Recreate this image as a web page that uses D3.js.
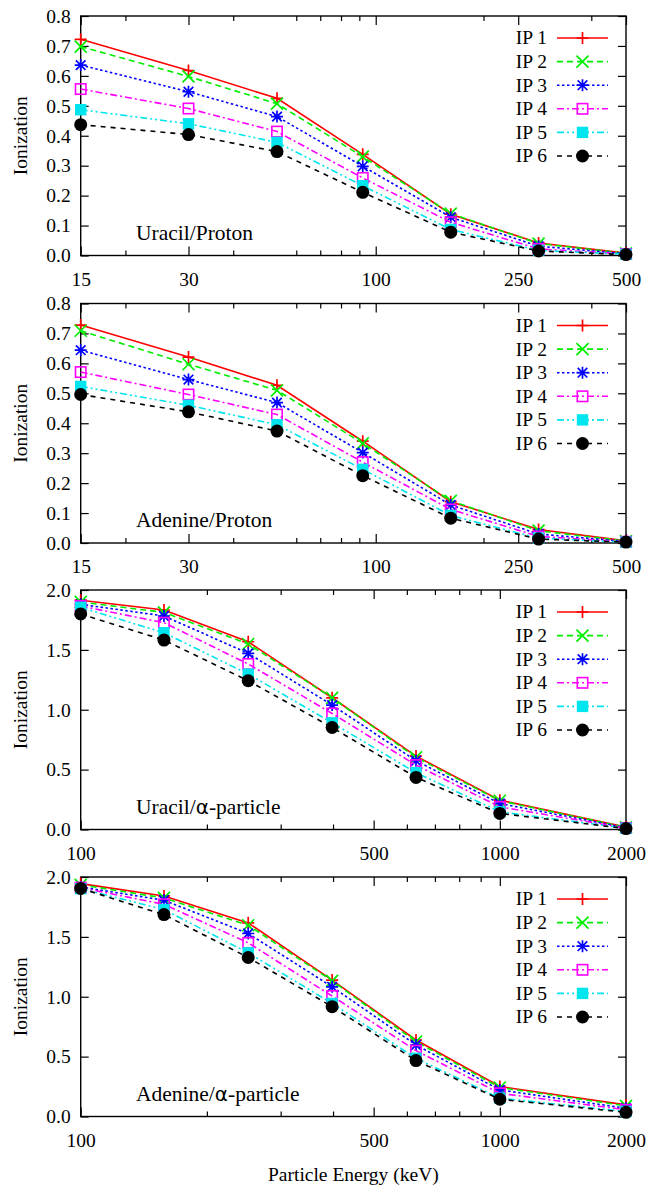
<!DOCTYPE html>
<html>
<head>
<meta charset="utf-8">
<script src="https://cdn.jsdelivr.net/npm/d3@7"></script>
<style>
body { margin: 0; background: #fff; }
svg text { font-family: "Liberation Serif", "Times New Roman", serif; fill: #000; }
.axis text { font-size: 19.5px; }
.axis line { stroke: #000; stroke-width: 1.2; }
.axis path { display: none; }
</style>
</head>
<body>
<div class="chart"></div>
<script>
// Data ---------------------------------------------------------------------
const seriesNames = ["IP 1", "IP 2", "IP 3", "IP 4", "IP 5", "IP 6"];

const protonEnergy = [15, 30, 53, 92, 162, 285, 500];
const alphaEnergy = [100, 158, 251, 398, 631, 1000, 2000];

const protonTicks = [15, 30, 100, 250, 500];
const protonMinorTicks = [20, 40, 60, 70, 80, 90, 200, 400];
const alphaTicks = [100, 500, 1000, 2000];
const alphaMinorTicks = [200, 300, 400, 600, 700, 800, 900];

const protonYTicks = [0, 0.1, 0.2, 0.3, 0.4, 0.5, 0.6, 0.7, 0.8];
const alphaYTicks = [0, 0.5, 1.0, 1.5, 2.0];

const uracilProton = [
  [0.722, 0.618, 0.525, 0.338, 0.138, 0.042, 0.008],
  [0.698, 0.598, 0.507, 0.330, 0.140, 0.040, 0.007],
  [0.636, 0.547, 0.464, 0.298, 0.128, 0.031, 0.006],
  [0.556, 0.491, 0.414, 0.259, 0.111, 0.022, 0.005],
  [0.487, 0.440, 0.378, 0.233, 0.087, 0.017, 0.004],
  [0.437, 0.404, 0.347, 0.211, 0.078, 0.015, 0.003]
];

const adenineProton = [
  [0.728, 0.621, 0.527, 0.340, 0.138, 0.045, 0.007],
  [0.709, 0.597, 0.510, 0.333, 0.141, 0.041, 0.006],
  [0.644, 0.546, 0.469, 0.302, 0.127, 0.030, 0.005],
  [0.571, 0.496, 0.429, 0.270, 0.112, 0.022, 0.004],
  [0.523, 0.460, 0.395, 0.246, 0.092, 0.016, 0.003],
  [0.496, 0.438, 0.374, 0.225, 0.083, 0.013, 0.003]
];

const uracilAlpha = [
  [1.915, 1.833, 1.568, 1.100, 0.613, 0.245, 0.020],
  [1.900, 1.813, 1.549, 1.100, 0.602, 0.240, 0.018],
  [1.880, 1.783, 1.471, 1.039, 0.574, 0.217, 0.015],
  [1.866, 1.727, 1.382, 0.969, 0.538, 0.189, 0.012],
  [1.855, 1.643, 1.298, 0.891, 0.474, 0.148, 0.010],
  [1.800, 1.582, 1.242, 0.852, 0.435, 0.134, 0.008]
];

const adenineAlpha = [
  [1.945, 1.842, 1.617, 1.139, 0.639, 0.250, 0.097],
  [1.935, 1.825, 1.597, 1.133, 0.625, 0.242, 0.089],
  [1.917, 1.806, 1.528, 1.083, 0.597, 0.222, 0.069],
  [1.911, 1.772, 1.450, 1.006, 0.550, 0.194, 0.056],
  [1.903, 1.728, 1.367, 0.944, 0.486, 0.153, 0.042],
  [1.905, 1.686, 1.328, 0.917, 0.467, 0.144, 0.035]
];

// Styles ---------------------------------------------------------------------
const colors = ["#ff0000", "#00ee00", "#0000ff", "#ff00ff", "#00e5ee", "#000000"];
const dashes = [null, "6,4", "2.5,2.5", "7,3,2,3", "7,3,2,3,2,3", "5,5"];
const markers = ["plus", "cross", "star", "square", "fsquare", "circle"];

// SVG Dimensions ---------------------------------------------------------------------
const width = 661;
const height = 1188;
const left = 80.7;
const right = 626;
const panelHeight = 239.5;

const svg = d3.select(".chart")
  .append("svg")
  .attr("width", width)
  .attr("height", height)
  .style("display", "block");

// Marker drawing ---------------------------------------------------------------------
function drawMarker(g, type, x, y, color) {
  const s = 6;
  if (type === "plus") {
    g.append("path").attr("d", `M${x - s},${y}H${x + s}M${x},${y - s}V${y + s}`)
      .attr("stroke", color).attr("stroke-width", 1.7).attr("fill", "none");
  } else if (type === "cross") {
    g.append("path").attr("d", `M${x - s},${y - s}L${x + s},${y + s}M${x - s},${y + s}L${x + s},${y - s}`)
      .attr("stroke", color).attr("stroke-width", 1.7).attr("fill", "none");
  } else if (type === "star") {
    g.append("path").attr("d", `M${x - s},${y}H${x + s}M${x},${y - s}V${y + s}` +
      `M${x - s * 0.8},${y - s * 0.8}L${x + s * 0.8},${y + s * 0.8}M${x - s * 0.8},${y + s * 0.8}L${x + s * 0.8},${y - s * 0.8}`)
      .attr("stroke", color).attr("stroke-width", 1.7).attr("fill", "none");
  } else if (type === "square") {
    g.append("rect").attr("x", x - 5.2).attr("y", y - 5.2).attr("width", 10.4).attr("height", 10.4)
      .attr("stroke", color).attr("stroke-width", 1.6).attr("fill", "none");
  } else if (type === "fsquare") {
    g.append("rect").attr("x", x - 5.7).attr("y", y - 5.7).attr("width", 11.4).attr("height", 11.4)
      .attr("fill", color);
  } else {
    g.append("circle").attr("cx", x).attr("cy", y).attr("r", 6.5).attr("fill", color);
  }
}

// Panel ---------------------------------------------------------------------
function drawPanel(top, energy, values, xTicks, xMinor, yTicks, yMax, title) {
  const bottom = top + panelHeight;
  const g = svg.append("g");

  const xScale = d3.scaleLog()
    .domain(d3.extent(energy))
    .range([left, right]);

  const yScale = d3.scaleLinear()
    .domain([0, yMax])
    .range([bottom, top]);

  // axes
  g.append("g").attr("class", "axis")
    .attr("transform", `translate(0,${bottom})`)
    .call(d3.axisBottom(xScale).tickValues(xTicks).tickSize(-9).tickPadding(16.5).tickFormat(d3.format("d")));
  g.append("g").attr("class", "axis")
    .attr("transform", `translate(0,${bottom})`)
    .call(d3.axisBottom(xScale).tickValues(xMinor).tickSize(-5).tickFormat(""));
  g.append("g").attr("class", "axis")
    .attr("transform", `translate(0,${top})`)
    .call(d3.axisTop(xScale).tickValues(xTicks).tickSize(-9).tickFormat(""));
  g.append("g").attr("class", "axis")
    .attr("transform", `translate(0,${top})`)
    .call(d3.axisTop(xScale).tickValues(xMinor).tickSize(-5).tickFormat(""));
  g.append("g").attr("class", "axis")
    .attr("transform", `translate(${left},0)`)
    .call(d3.axisLeft(yScale).tickValues(yTicks).tickSize(-8).tickPadding(10).tickFormat(d3.format(".1f")));
  g.append("g").attr("class", "axis")
    .attr("transform", `translate(${right},0)`)
    .call(d3.axisRight(yScale).tickValues(yTicks).tickSize(-8).tickFormat(""));

  g.append("rect")
    .attr("x", left).attr("y", top)
    .attr("width", right - left).attr("height", panelHeight)
    .attr("fill", "none").attr("stroke", "#000").attr("stroke-width", 1.4);

  g.append("text")
    .attr("transform", `translate(20,${(top + bottom) / 2}) rotate(-90)`)
    .attr("text-anchor", "middle")
    .attr("dy", "0.35em")
    .style("font-size", "19.5px")
    .text("Ionization");

  // annotation
  const label = g.append("text")
    .attr("x", 136)
    .attr("y", bottom - 16)
    .style("font-size", "21.5px");
  label.append("tspan").text(title[0]);
  if (title[1]) {
    label.append("tspan").style("font-family", "'DejaVu Sans', sans-serif").style("font-size", "20px").text(title[1]);
    label.append("tspan").text(title[2]);
  }

  // lines
  const line = d3.line()
    .x((d, i) => xScale(energy[i]))
    .y(d => yScale(d));

  values.forEach((series, k) => {
    g.append("path")
      .datum(series)
      .attr("d", line)
      .attr("fill", "none")
      .attr("stroke", colors[k])
      .attr("stroke-width", 1.6)
      .attr("stroke-dasharray", dashes[k]);
    series.forEach((v, i) => drawMarker(g, markers[k], xScale(energy[i]), yScale(v), colors[k]));
  });

  // legend
  seriesNames.forEach((name, k) => {
    const ly = top + 22 + k * 23.6;
    g.append("text")
      .attr("x", 547)
      .attr("y", ly)
      .attr("dy", "0.33em")
      .attr("text-anchor", "end")
      .style("font-size", "19.5px")
      .text(name);
    g.append("line")
      .attr("x1", 557).attr("x2", 608)
      .attr("y1", ly).attr("y2", ly)
      .attr("stroke", colors[k])
      .attr("stroke-width", 1.6)
      .attr("stroke-dasharray", dashes[k]);
    drawMarker(g, markers[k], 582.5, ly, colors[k]);
  });
}

drawPanel(16, protonEnergy, uracilProton, protonTicks, protonMinorTicks, protonYTicks, 0.8, ["Uracil/Proton"]);
drawPanel(303.5, protonEnergy, adenineProton, protonTicks, protonMinorTicks, protonYTicks, 0.8, ["Adenine/Proton"]);
drawPanel(590, alphaEnergy, uracilAlpha, alphaTicks, alphaMinorTicks, alphaYTicks, 2.0, ["Uracil/", "α", "-particle"]);
drawPanel(877, alphaEnergy, adenineAlpha, alphaTicks, alphaMinorTicks, alphaYTicks, 2.0, ["Adenine/", "α", "-particle"]);

// X label ---------------------------------------------------------------------
svg.append("text")
  .attr("x", (left + right) / 2)
  .attr("y", 1181)
  .attr("text-anchor", "middle")
  .style("font-size", "19.5px")
  .text("Particle Energy (keV)");
</script>
</body>
</html>
